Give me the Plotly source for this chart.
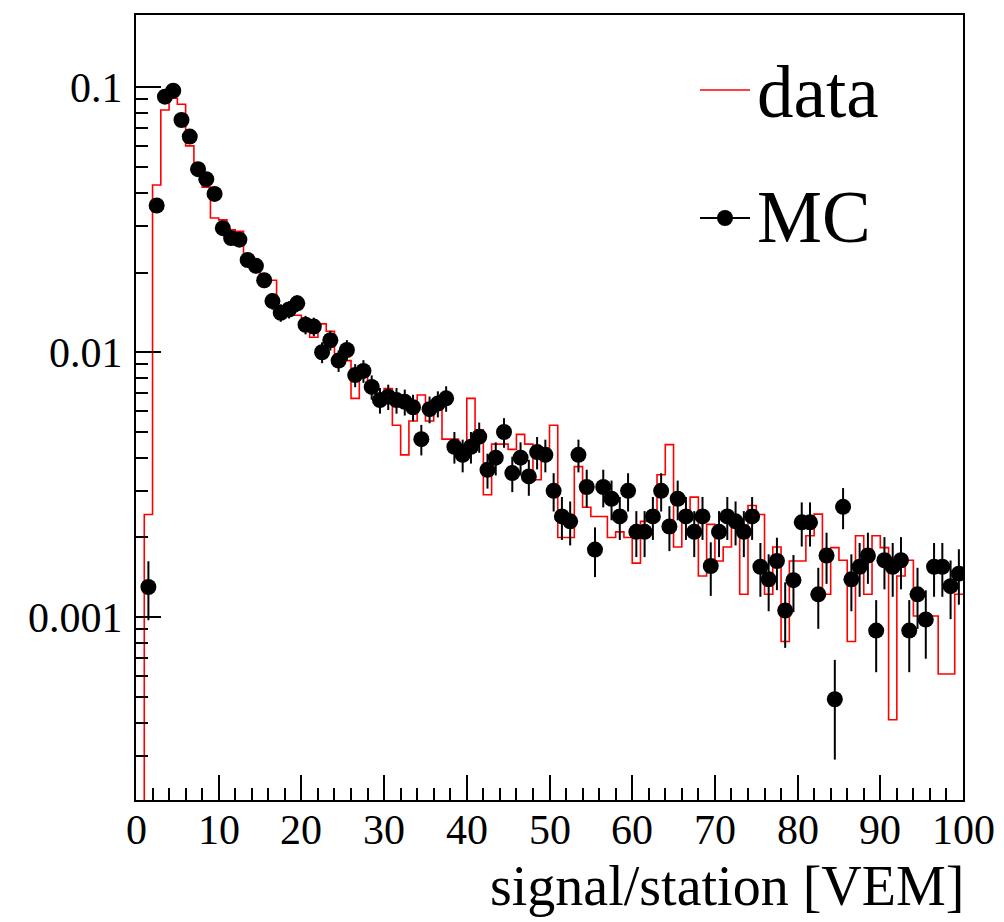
import plotly.graph_objects as go

# ---------------- data ----------------
bin_low_edges = list(range(0, 100))          # 100 bins of width 1 VEM, 0..100

data_vals = [
    0.0, 0.00244, 0.0428, 0.0821, 0.0909, 0.0863, 0.0601, 0.050, 0.042, 0.0321,
    0.0316, 0.0290, 0.0286, 0.023, 0.021, 0.019, 0.0187, 0.0145, 0.0140, 0.0138,
    0.0130, 0.0114, 0.0128, 0.0120, 0.0096, 0.0093, 0.0067, 0.0081, 0.0075, 0.0068,
    0.0073, 0.0053, 0.0041, 0.0055, 0.0069, 0.0055, 0.0063, 0.0047, 0.0047, 0.0042,
    0.0067, 0.0051, 0.0029, 0.0045, 0.0045, 0.0043, 0.0049, 0.0045, 0.0033, 0.0040,
    0.0053, 0.0020, 0.0020, 0.0037, 0.0026, 0.0024, 0.0024, 0.0020, 0.0021, 0.0020,
    0.0016, 0.0023, 0.0024, 0.00345, 0.00448, 0.00184, 0.0024, 0.00284, 0.00143, 0.00224,
    0.00163, 0.00184, 0.0023, 0.00122, 0.00264, 0.00244, 0.00122, 0.00184, 0.00081, 0.00163,
    0.00163, 0.00203, 0.00245, 0.00122, 0.00183, 0.00164, 0.00081, 0.00203, 0.00122, 0.00203,
    0.00183, 0.00041, 0.00143, 0.00164, 0.00101, 0.00101, 0.00101, 0.00061, 0.00061, 0.00122,
]

mc_bins = list(range(1, 100))
mc_vals = [
    0.0013, 0.0358, 0.0922, 0.0971, 0.0753, 0.0652, 0.0491, 0.045, 0.0396,
    0.0294, 0.0270, 0.0266, 0.0223, 0.0212, 0.0187, 0.0156, 0.0141, 0.0145, 0.0153,
    0.0127, 0.0125, 0.0100, 0.0111, 0.0093, 0.0102, 0.0082, 0.0085, 0.0074, 0.0066,
    0.0068, 0.0066, 0.0065, 0.0062, 0.0047, 0.0061, 0.0064, 0.0067, 0.0044, 0.0041,
    0.0044, 0.0048, 0.0036, 0.0040, 0.0050, 0.0035, 0.0040, 0.0034, 0.0042, 0.0041,
    0.0030, 0.0024, 0.0023, 0.0041, 0.0031, 0.0018, 0.0031, 0.0028, 0.0024, 0.0030,
    0.0021, 0.0021, 0.0024, 0.0030, 0.0022, 0.0028, 0.0024, 0.0021, 0.0024, 0.00156,
    0.0021, 0.0024, 0.0023, 0.0021, 0.0024, 0.00155, 0.00139, 0.00163, 0.00106, 0.00138,
    0.00228, 0.00228, 0.00122, 0.00171, 0.00049, 0.00261, 0.00139, 0.00155, 0.00171, 0.00089,
    0.00164, 0.00155, 0.00164, 0.00089, 0.00122, 0.00098, 0.00155, 0.00155, 0.00131, 0.00146,
]
mc_errs = [
    0.000326, 0.00171, 0.00274, 0.00282, 0.00248, 0.00231, 0.00200, 0.00192, 0.00180,
    0.00155, 0.00149, 0.00147, 0.00135, 0.00132, 0.00124, 0.00113, 0.00107, 0.00109, 0.00112,
    0.00102, 0.00101, 0.000904, 0.000952, 0.000872, 0.000913, 0.000819, 0.000833, 0.000778, 0.000734,
    0.000745, 0.000734, 0.000729, 0.000712, 0.00062, 0.000706, 0.000723, 0.00074, 0.0006, 0.000579,
    0.0006, 0.000626, 0.000542, 0.000572, 0.000639, 0.000535, 0.000572, 0.000527, 0.000586, 0.000579,
    0.000495, 0.000443, 0.000434, 0.000579, 0.000503, 0.000383, 0.000503, 0.000478, 0.000443, 0.000495,
    0.000414, 0.000414, 0.000443, 0.000495, 0.000424, 0.000478, 0.000443, 0.000414, 0.000443, 0.000357,
    0.000414, 0.000443, 0.000434, 0.000414, 0.000443, 0.000356, 0.000337, 0.000365, 0.000294, 0.000336,
    0.000432, 0.000432, 0.000316, 0.000374, 0.0002, 0.000462, 0.000337, 0.000356, 0.000374, 0.00027,
    0.000366, 0.000356, 0.000366, 0.00027, 0.000316, 0.000283, 0.000356, 0.000356, 0.000327, 0.000345,
]

y_tick_vals = [0.001, 0.01, 0.1]
y_tick_text = ["0.001", "0.01", "0.1"]
x_tick_vals = [0, 10, 20, 30, 40, 50, 60, 70, 80, 90, 100]
x_tick_text = ["0", "10", "20", "30", "40", "50", "60", "70", "80", "90", "100"]
x_title = "signal/station [VEM]"
legend_labels = ["data", "MC"]

# ---------------- figure ----------------
FONT = "Liberation Serif, Times New Roman, serif"
W, H = 1004, 922
ML, MR, MT, MB = 136, 41, 15, 122
PW, PH = W - ML - MR, H - MT - MB

def px(xp):
    return (xp - ML) / PW

def py(yp):
    return (H - MB - yp) / PH

floor = 1e-7  # empty bins drawn at the bottom (outside the visible range)
step_x = bin_low_edges + [bin_low_edges[-1] + 1]
step_y = [v if v > 0 else floor for v in data_vals]
step_y = step_y + [step_y[-1]]

fig = go.Figure()
fig.add_trace(go.Scatter(
    x=step_x, y=step_y, mode="lines", line_shape="hv",
    line=dict(color="#ff0000", width=1.6), showlegend=False, hoverinfo="skip",
))
fig.add_trace(go.Scatter(
    x=[b + 0.5 for b in mc_bins], y=mc_vals, mode="markers",
    marker=dict(color="black", size=16, symbol="circle", line=dict(width=0)),
    error_y=dict(type="data", array=mc_errs, visible=True, color="black",
                 thickness=2, width=0),
    showlegend=False,
))

minor_y = []
for dec in [1e-4, 1e-3, 1e-2, 1e-1]:
    for m in range(2, 10):
        minor_y.append(round(m * dec, 6))

fig.update_layout(
    width=W, height=H,
    margin=dict(l=ML, r=MR, t=MT, b=MB, pad=0),
    paper_bgcolor="white", plot_bgcolor="white",
    font=dict(family=FONT, color="black", size=42),
    xaxis=dict(
        range=[0, 100], showgrid=False, zeroline=False,
        showline=True, linecolor="black", linewidth=2, mirror=True,
        ticks="inside", ticklen=25, tickwidth=1.5, tickcolor="black",
        tickvals=x_tick_vals, showticklabels=False,
        minor=dict(ticks="inside", ticklen=12, tickwidth=1.5, tickcolor="black",
                   dtick=2, tick0=0, showgrid=False),
    ),
    yaxis=dict(
        type="log", range=[-3.69, -0.727], showgrid=False, zeroline=False,
        showline=True, linecolor="black", linewidth=2, mirror=True,
        ticks="inside", ticklen=25, tickwidth=1.5, tickcolor="black",
        tickvals=y_tick_vals, ticktext=y_tick_text,
        tickfont=dict(family=FONT, size=42),
        ticklabelstandoff=3,
        minor=dict(ticks="inside", ticklen=12, tickwidth=1.5, tickcolor="black",
                   tickvals=minor_y, showgrid=False),
    ),
)

# x tick labels
for v, t in zip(x_tick_vals, x_tick_text):
    fig.add_annotation(text=t, xref="x", yref="paper", x=v, y=py(830),
                       xanchor="center", yanchor="middle", showarrow=False,
                       font=dict(family=FONT, size=42, color="black"))

# x-axis title (right aligned, ROOT style)
fig.add_annotation(
    text=x_title, xref="paper", yref="paper", x=1.0, y=py(886),
    xanchor="right", yanchor="middle", showarrow=False, xshift=3,
    font=dict(family=FONT, size=56, color="black"),
)

# legend (drawn manually, ROOT style)
fig.add_shape(type="line", xref="paper", yref="paper",
              x0=px(700), x1=px(750), y0=py(90), y1=py(90),
              line=dict(color="#ff0000", width=1.6))
fig.add_annotation(text=legend_labels[0], xref="paper", yref="paper",
                   x=px(755), y=py(93), xanchor="left", yanchor="middle",
                   showarrow=False, font=dict(family=FONT, size=73, color="black"))
fig.add_shape(type="line", xref="paper", yref="paper",
              x0=px(700), x1=px(750), y0=py(218), y1=py(218),
              line=dict(color="black", width=2))
fig.add_shape(type="circle", xref="paper", yref="paper",
              x0=px(717), x1=px(733), y0=py(226), y1=py(210),
              fillcolor="black", line=dict(color="black", width=0))
fig.add_annotation(text=legend_labels[1], xref="paper", yref="paper",
                   x=px(755), y=py(217), xanchor="left", yanchor="middle",
                   showarrow=False, font=dict(family=FONT, size=73, color="black"))

fig.write_html("out.html")
